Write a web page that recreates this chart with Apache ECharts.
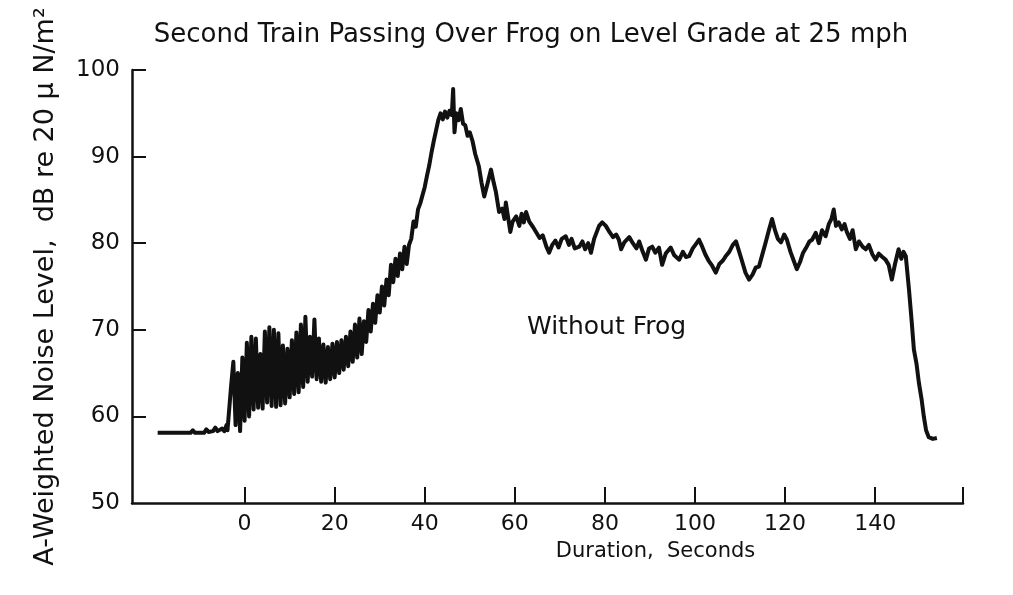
<!DOCTYPE html>
<html>
<head>
<meta charset="utf-8">
<script src="https://cdn.jsdelivr.net/npm/echarts@6/dist/echarts.min.js"></script>
<style>
  html,body{margin:0;padding:0;background:#fff;}
  #chart{width:1013px;height:595px;}
</style>
</head>
<body>
<div id="chart"></div>
<script>
/* Second train over frog, level grade, 25 mph — A-weighted level vs. time */
const FONT = "'DejaVu Sans', Lato, sans-serif";
const INK = "#111";

const xTickLabels = [0,20,40,60,80,100,120,140];
const xTickMarks = [0,20,40,60,80,100,120,140,159.5];
const yTicks = [50,60,70,80,90,100];

// time (s)
const tSec = [
  -19.3,-12,-11.5,-11,-9,-8.5,-8,-7,-6.5,-6,-5,-4.5,-4,-3.8,
  -3.5,-3,-2.5,-2,-1.5,-1,-0.5,0,0.5,1,1.5,2,2.5,3,3.5,4,4.5,5,5.5,6,6.5,7,7.5,8,8.5,9,9.5,
  10,10.5,11,11.5,12,12.5,13,13.5,14,14.5,15,15.5,16,16.5,17,17.5,18,18.5,19,19.5,
  20,20.5,21,21.5,22,22.5,23,23.5,24,24.5,25,25.5,26,26.5,27,27.5,28,28.5,29,29.5,
  30,30.5,31,31.5,32,32.5,33,33.5,34,34.5,35,35.5,36,36.5,37,37.5,38,38.5,39,
  40,40.5,41,41.5,42,42.5,43,43.5,44,44.5,45,45.5,46,46.3,46.6,47,47.5,48,48.5,49,49.5,
  50,50.6,51.2,52,52.6,53.2,54,54.7,55.3,55.8,56.5,57.2,57.7,58,58.5,59,59.5,
  60.3,61,61.5,62,62.5,63.2,64,64.7,65.5,66.2,67,67.6,68.3,69,69.7,
  70.4,71.3,72,72.6,73.3,74.3,75,75.6,76.3,76.9,77.6,78.7,79.4,
  80.2,81,81.8,82.5,83.1,83.6,84.3,85.4,86.2,87,87.6,88.4,89.1,89.8,
  90.5,91.2,92,92.7,93.5,94.6,95.4,96.5,97.3,98,98.7,99.5,
  100.2,100.9,101.6,102.3,103,103.8,104.6,105.4,106.2,106.8,107.6,108.4,109.1,109.7,
  110.4,111.2,112,112.8,113.5,114.2,115,115.7,116.4,117.1,117.7,118.4,119.1,119.8,
  120.4,121.2,121.9,122.6,123.3,124,124.8,125.4,126,126.8,127.5,128.2,129,129.7,
  130.3,130.8,131.3,131.9,132.6,133.2,133.7,134.4,135,135.7,136.4,137.2,137.9,138.6,139.4,
  140.1,140.8,141.6,142.3,143,143.7,144.4,145.2,145.8,146.3,146.8,147.5,148.1,148.6,149.2,149.7,
  150.3,150.8,151.3,151.9,152.8,153.7
];

// A-weighted level, dB re 20 µN/m²
const dbA = [
  58.1,58.1,58.4,58.1,58.1,58.5,58.2,58.3,58.7,58.3,58.6,58.3,59.0,58.4,
  58.6,63.5,66.3,59.0,65.0,58.3,66.8,59.5,68.5,60.0,69.2,60.8,69.0,61.0,67.2,60.9,69.8,61.6,70.3,61.2,70.0,61.1,69.6,61.3,68.2,61.5,67.8,
  62.2,68.8,62.6,69.7,62.8,70.6,63.4,71.5,64.0,69.2,64.6,71.2,64.3,69.0,64.0,68.3,63.9,68.0,64.3,68.4,
  64.5,68.6,65.0,68.8,65.4,69.2,65.8,69.8,66.3,70.6,66.8,71.3,67.2,71.0,68.6,72.3,69.8,73.0,70.8,74.0,
  72.0,75.0,72.8,75.8,74.0,77.5,75.5,78.2,76.2,78.8,77.0,79.6,77.6,79.8,80.5,82.5,81.9,83.9,84.6,
  86.5,87.8,89.0,90.5,91.8,93.0,94.2,95.0,94.3,95.2,94.5,95.3,94.8,97.8,92.8,95.0,94.2,95.5,93.8,93.6,92.4,
  92.8,91.8,90.3,88.9,87.0,85.4,87.0,88.5,87.0,85.9,83.6,84.0,82.8,84.7,83.0,81.3,82.5,
  83.1,82.0,83.4,82.4,83.6,82.5,81.9,81.3,80.6,80.9,79.6,78.9,79.8,80.3,79.5,
  80.5,80.8,79.8,80.5,79.4,79.6,80.2,79.3,80.0,78.9,80.5,82.0,82.4,
  82.0,81.3,80.7,81.0,80.4,79.3,80.1,80.7,80.0,79.4,80.2,79.0,78.1,79.4,
  79.6,78.9,79.5,77.5,78.8,79.5,78.6,78.1,79.0,78.4,78.5,79.4,
  79.9,80.4,79.6,78.7,78.0,77.4,76.6,77.6,78.0,78.5,79.0,79.8,80.2,79.2,
  78.0,76.6,75.8,76.4,77.2,77.3,78.8,80.1,81.5,82.8,81.6,80.5,80.1,81.0,
  80.4,79.0,78.0,77.0,77.8,78.9,79.6,80.2,80.4,81.2,80.0,81.5,80.8,82.2,
  82.8,83.9,82.0,82.4,81.6,82.2,81.3,80.5,81.5,79.3,80.2,79.6,79.3,79.8,78.7,
  78.1,78.8,78.4,78.1,77.5,75.8,77.6,79.3,78.2,79.0,78.5,74.7,71.0,67.7,66.0,63.9,
  62.0,60.0,58.4,57.6,57.4,57.5
];

const trace = tSec.map((t,i)=>[t, dbA[i]]);

const chart = echarts.init(document.getElementById("chart"), null, {renderer:"canvas"});
chart.setOption({
  animation:false,
  backgroundColor:"#fff",
  textStyle:{fontFamily:FONT,color:INK},
  title:{
    text:"Second Train Passing Over Frog on Level Grade at 25 mph",
    left:526, top:17, textAlign:"center",
    textStyle:{fontFamily:FONT,fontSize:26,fontWeight:"normal",color:INK}
  },
  grid:{left:132, top:70, width:831, height:433},
  xAxis:{
    type:"value", min:-25, max:159.5,
    name:"Duration,  Seconds", nameLocation:"middle", nameGap:38,
    nameTextStyle:{fontFamily:FONT,fontSize:21,color:INK,padding:[0,0,0,216]},
    axisLine:{onZero:false,lineStyle:{color:INK,width:2.5}},
    axisTick:{inside:true,length:16,lineStyle:{color:INK,width:2},customValues:xTickMarks},
    axisLabel:{customValues:xTickLabels,fontFamily:FONT,fontSize:22,color:INK,margin:10},
    splitLine:{show:false}
  },
  yAxis:{
    type:"value", min:50, max:100, interval:10,
    name:"A-Weighted Noise Level,  dB re 20 μ N/m²", nameLocation:"middle", nameGap:73, nameRotate:90,
    nameTextStyle:{fontFamily:FONT,fontSize:27,color:INK},
    axisLine:{show:true,onZero:false,lineStyle:{color:INK,width:2.5}},
    axisTick:{inside:true,length:14,lineStyle:{color:INK,width:2},customValues:[60,70,80,90,100]},
    axisLabel:{customValues:yTicks,fontFamily:FONT,fontSize:23,color:INK,margin:12},
    splitLine:{show:false}
  },
  graphic:[{
    type:"text", left:527, top:315,
    style:{text:"Without Frog",fontFamily:FONT,fontSize:25,fill:INK}
  }],
  series:[{
    type:"line", data:trace, showSymbol:false, sampling:null,
    lineStyle:{color:INK,width:4,join:"round"}
  }]
});
</script>
</body>
</html>
